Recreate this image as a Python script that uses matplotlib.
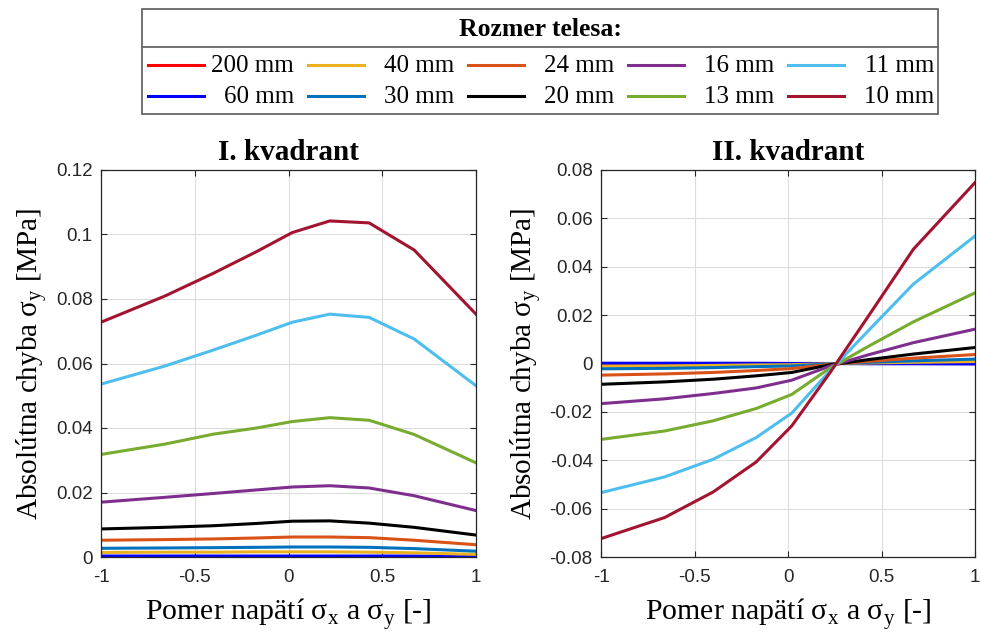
import matplotlib
matplotlib.use("Agg")
import matplotlib.pyplot as plt
from matplotlib.lines import Line2D
from matplotlib.patches import Rectangle

plt.rcParams["axes.unicode_minus"] = False
plt.rcParams["mathtext.fontset"] = "custom"
plt.rcParams["mathtext.rm"] = "Liberation Serif"

# Stress ratio sigma_x / sigma_y
ratio = [-1.0, -0.66, -0.40, -0.17, 0.02, 0.22, 0.43, 0.67, 1.0]

sizes = ["200 mm", "60 mm", "40 mm", "30 mm", "24 mm",
         "20 mm", "16 mm", "13 mm", "11 mm", "10 mm"]
colors = ["#ff0000", "#0000ff", "#edb120", "#0072bd", "#d95319",
          "#000000", "#7e2f8e", "#77ac30", "#4dbeee", "#a2142f"]

# Quadrant I – absolute error of sigma_y [MPa]
q1_200 = [0.00002, 0.00002, 0.00002, 0.00002, 0.00002, 0.00002, 0.00002, 0.00002, 0.00001]
q1_60 = [0.0003, 0.0003, 0.0003, 0.0003, 0.0003, 0.0003, 0.0003, 0.0003, 0.0002]
q1_40 = [0.0014, 0.0015, 0.0015, 0.0016, 0.0016, 0.0016, 0.0015, 0.0013, 0.0008]
q1_30 = [0.0027, 0.0028, 0.0029, 0.0030, 0.0031, 0.0031, 0.0030, 0.0026, 0.0018]
q1_24 = [0.0052, 0.0054, 0.0056, 0.0059, 0.0062, 0.0062, 0.0060, 0.0052, 0.0038]
q1_20 = [0.0087, 0.0092, 0.0097, 0.0104, 0.0111, 0.0112, 0.0105, 0.0092, 0.0068]
q1_16 = [0.0170, 0.0185, 0.0197, 0.0208, 0.0217, 0.0221, 0.0214, 0.0190, 0.0144]
q1_13 = [0.0318, 0.0350, 0.0381, 0.0400, 0.0420, 0.0432, 0.0424, 0.0380, 0.0292]
q1_11 = [0.0536, 0.0592, 0.0642, 0.0688, 0.0728, 0.0753, 0.0743, 0.0676, 0.0531]
q1_10 = [0.0728, 0.0809, 0.0880, 0.0947, 0.1006, 0.1042, 0.1036, 0.0952, 0.0753]

# Quadrant II – absolute error of sigma_y [MPa]
q2_200 = [0.00002, 0.00002, 0.00002, 0.00001, 0.00001, 0.0, 0.0, -0.00001, -0.00002]
q2_60 = [0.0001, 0.0001, 0.0001, 0.0001, 0.0, 0.0, -0.0001, -0.0001, -0.0002]
q2_40 = [-0.0011, -0.0010, -0.0008, -0.0006, -0.0005, -0.0001, 0.0002, 0.0005, 0.0008]
q2_30 = [-0.0022, -0.0020, -0.0017, -0.0013, -0.0010, -0.0002, 0.0005, 0.0011, 0.0018]
q2_24 = [-0.0048, -0.0043, -0.0037, -0.0029, -0.0021, -0.0004, 0.0009, 0.0022, 0.0037]
q2_20 = [-0.0086, -0.0076, -0.0065, -0.0051, -0.0037, -0.0006, 0.0016, 0.0039, 0.0066]
q2_16 = [-0.0166, -0.0146, -0.0124, -0.0101, -0.0069, -0.0012, 0.0036, 0.0086, 0.0142]
q2_13 = [-0.0314, -0.0279, -0.0237, -0.0186, -0.0128, -0.0021, 0.0071, 0.0172, 0.0292]
q2_11 = [-0.0534, -0.0469, -0.0396, -0.0306, -0.0205, -0.0034, 0.0136, 0.0328, 0.0527]
q2_10 = [-0.0724, -0.0637, -0.0531, -0.0407, -0.0258, -0.0043, 0.0196, 0.0472, 0.0748]

q1_series = [q1_200, q1_60, q1_40, q1_30, q1_24, q1_20, q1_16, q1_13, q1_11, q1_10]
q2_series = [q2_200, q2_60, q2_40, q2_30, q2_24, q2_20, q2_16, q2_13, q2_11, q2_10]

x_ticks = [-1, -0.5, 0, 0.5, 1]
x_ticklabels = ["-1", "-0.5", "0", "0.5", "1"]
q1_yticks = [0, 0.02, 0.04, 0.06, 0.08, 0.1, 0.12]
q1_yticklabels = ["0", "0.02", "0.04", "0.06", "0.08", "0.1", "0.12"]
q2_yticks = [-0.08, -0.06, -0.04, -0.02, 0, 0.02, 0.04, 0.06, 0.08]
q2_yticklabels = ["-0.08", "-0.06", "-0.04", "-0.02", "0", "0.02", "0.04", "0.06", "0.08"]

SERIF = "Liberation Serif"
SANS = "Liberation Sans"
AX_GREY = "#262626"

W, H = 981, 637
fig = plt.figure(figsize=(W / 100, H / 100), dpi=100)


def px_axes(x0, y0, x1, y1):
    return fig.add_axes([x0 / W, 1 - y1 / H, (x1 - x0) / W, (y1 - y0) / H])


def style_axes(ax, yticks, yticklabels, ylim, title):
    ax.set_xlim(-1, 1)
    ax.set_ylim(*ylim)
    ax.set_xticks(x_ticks)
    ax.set_xticklabels(x_ticklabels, fontfamily=SANS, fontsize=13.5, color=AX_GREY)
    ax.set_yticks(yticks)
    ax.set_yticklabels(yticklabels, fontfamily=SANS, fontsize=13.5, color=AX_GREY)
    ax.tick_params(direction="in", length=4, width=0.8, color=AX_GREY,
                   top=True, right=True)
    ax.tick_params(axis="x", pad=9)
    ax.tick_params(axis="y", pad=6)
    ax.grid(True, color="#dcdcdc", linewidth=0.8)
    ax.set_axisbelow(True)
    for sp in ax.spines.values():
        sp.set_color(AX_GREY)
        sp.set_linewidth(0.9)
    ax.set_title(title, fontfamily=SERIF, fontsize=21, fontweight="bold", pad=7)
    ax.set_xlabel("Pomer napätí σ$_\\mathregular{x}$ a σ$_\\mathregular{y}$ [-]",
                  fontfamily=SERIF, fontsize=21.5, labelpad=7)
    ax.set_ylabel("Absolútna chyba σ$_\\mathregular{y}$ [MPa]",
                  fontfamily=SERIF, fontsize=21, labelpad=4)


ax1 = px_axes(101, 170, 476, 557)
for vals, c in zip(q1_series, colors):
    ax1.plot(ratio, vals, color=c, linewidth=2.2)
style_axes(ax1, q1_yticks, q1_yticklabels, (0, 0.12), "I. kvadrant")

ax2 = px_axes(601, 170, 975, 557)
for vals, c in zip(q2_series, colors):
    ax2.plot(ratio, vals, color=c, linewidth=2.2)
style_axes(ax2, q2_yticks, q2_yticklabels, (-0.08, 0.08), "II. kvadrant")

# Legend box spanning both panels
bx0, by0, bx1, by1 = 142, 9, 938, 114
lg = px_axes(bx0, by0, bx1, by1)
lg.set_xlim(0, bx1 - bx0)
lg.set_ylim(by1 - by0, 0)
lg.axis("off")
lg.add_patch(Rectangle((0, 0), bx1 - bx0, by1 - by0, fill=False,
                       edgecolor="#5a5a5a", linewidth=1.2, clip_on=False))
lg.add_line(Line2D([0, bx1 - bx0], [37.5, 37.5], color="#5a5a5a", linewidth=1.2))
lg.text((bx1 - bx0) / 2, 20, "Rozmer telesa:", fontfamily=SERIF, fontsize=18.5,
        fontweight="bold", ha="center", va="center")
row_y = [56, 87]
for i, (lab, c) in enumerate(zip(sizes, colors)):
    col, row = divmod(i, 2)
    x0 = 6 + col * 160
    lg.add_line(Line2D([x0, x0 + 56], [row_y[row], row_y[row]], color=c, linewidth=2.2))
    lg.text(x0 + 146, row_y[row] + 1, lab, fontfamily=SERIF, fontsize=18,
            ha="right", va="center")

fig.savefig("out.png", dpi=100)
